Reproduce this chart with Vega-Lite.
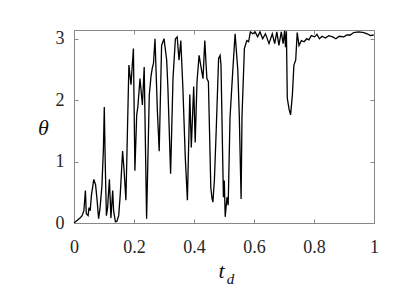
{
  "$schema": "https://vega.github.io/schema/vega-lite/v6.json",
  "width": 300,
  "height": 193,
  "autosize": "none",
  "padding": {"left": 74, "top": 30, "right": 25, "bottom": 77},
  "background": "white",
  "config": {
    "view": {"stroke": "#888888", "strokeWidth": 1},
    "font": "Liberation Serif",
    "axis": {"labelFont": "Liberation Serif", "titleFont": "Liberation Serif", "labelFlush": false}
  },
  "data": {"values": [
    {"t":0.0,"theta":0.0},{"t":0.01,"theta":0.04},{"t":0.02,"theta":0.08},{"t":0.027,"theta":0.12},
    {"t":0.033,"theta":0.2},{"t":0.038,"theta":0.53},{"t":0.041,"theta":0.15},{"t":0.047,"theta":0.12},
    {"t":0.05,"theta":0.25},{"t":0.054,"theta":0.2},{"t":0.058,"theta":0.45},{"t":0.066,"theta":0.71},
    {"t":0.072,"theta":0.62},{"t":0.077,"theta":0.37},{"t":0.082,"theta":0.07},{"t":0.087,"theta":0.25},
    {"t":0.093,"theta":0.6},{"t":0.098,"theta":1.2},{"t":0.101,"theta":1.89},{"t":0.104,"theta":1.0},
    {"t":0.108,"theta":0.12},{"t":0.112,"theta":0.25},{"t":0.118,"theta":0.71},{"t":0.121,"theta":0.35},
    {"t":0.123,"theta":0.08},{"t":0.129,"theta":0.53},{"t":0.132,"theta":0.2},{"t":0.138,"theta":0.02},
    {"t":0.143,"theta":0.03},{"t":0.149,"theta":0.12},{"t":0.154,"theta":0.45},{"t":0.162,"theta":1.17},
    {"t":0.167,"theta":0.85},{"t":0.173,"theta":0.37},{"t":0.183,"theta":2.57},{"t":0.19,"theta":2.25},
    {"t":0.198,"theta":2.84},{"t":0.203,"theta":0.85},{"t":0.209,"theta":1.76},{"t":0.213,"theta":1.9},
    {"t":0.22,"theta":2.35},{"t":0.228,"theta":1.92},{"t":0.234,"theta":2.54},{"t":0.242,"theta":0.07},
    {"t":0.251,"theta":2.09},{"t":0.257,"theta":2.4},{"t":0.261,"theta":2.52},{"t":0.265,"theta":2.6},
    {"t":0.27,"theta":3.0},{"t":0.278,"theta":1.82},{"t":0.284,"theta":1.17},{"t":0.292,"theta":2.89},
    {"t":0.3,"theta":3.0},{"t":0.309,"theta":2.65},{"t":0.313,"theta":2.2},{"t":0.322,"theta":0.8},
    {"t":0.33,"theta":2.35},{"t":0.338,"theta":3.0},{"t":0.344,"theta":3.03},{"t":0.35,"theta":2.65},
    {"t":0.356,"theta":2.97},{"t":0.363,"theta":2.19},{"t":0.371,"theta":1.06},{"t":0.378,"theta":0.37},
    {"t":0.386,"theta":2.09},{"t":0.391,"theta":1.23},{"t":0.399,"theta":2.22},{"t":0.404,"theta":1.31},
    {"t":0.41,"theta":2.3},{"t":0.417,"theta":2.73},{"t":0.424,"theta":2.52},{"t":0.43,"theta":2.35},
    {"t":0.436,"theta":2.97},{"t":0.44,"theta":2.6},{"t":0.443,"theta":2.35},{"t":0.448,"theta":2.3},
    {"t":0.456,"theta":0.58},{"t":0.46,"theta":0.4},{"t":0.463,"theta":0.34},{"t":0.468,"theta":0.7},
    {"t":0.474,"theta":1.5},{"t":0.482,"theta":2.68},{"t":0.487,"theta":2.73},{"t":0.49,"theta":2.57},
    {"t":0.498,"theta":0.42},{"t":0.501,"theta":0.69},{"t":0.504,"theta":0.1},{"t":0.51,"theta":0.42},
    {"t":0.514,"theta":0.29},{"t":0.52,"theta":1.71},{"t":0.529,"theta":2.46},{"t":0.537,"theta":3.08},
    {"t":0.546,"theta":2.49},{"t":0.551,"theta":1.74},{"t":0.557,"theta":0.39},{"t":0.56,"theta":1.74},
    {"t":0.568,"theta":2.84},{"t":0.576,"theta":2.97},{"t":0.582,"theta":2.95},{"t":0.588,"theta":3.11},
    {"t":0.596,"theta":3.08},{"t":0.604,"theta":3.11},{"t":0.612,"theta":3.03},{"t":0.62,"theta":3.11},
    {"t":0.629,"theta":3.0},{"t":0.638,"theta":3.08},{"t":0.642,"theta":3.03},{"t":0.65,"theta":2.92},
    {"t":0.661,"theta":3.08},{"t":0.669,"theta":2.92},{"t":0.676,"theta":3.11},{"t":0.683,"theta":2.89},
    {"t":0.691,"theta":3.11},{"t":0.697,"theta":2.92},{"t":0.702,"theta":3.13},{"t":0.705,"theta":2.86},
    {"t":0.708,"theta":3.12},{"t":0.711,"theta":2.03},{"t":0.717,"theta":1.85},{"t":0.722,"theta":1.76},
    {"t":0.728,"theta":2.09},{"t":0.733,"theta":2.57},{"t":0.739,"theta":2.65},{"t":0.744,"theta":3.1},
    {"t":0.75,"theta":2.89},{"t":0.758,"theta":2.97},{"t":0.767,"theta":2.95},{"t":0.776,"theta":3.0},
    {"t":0.783,"theta":2.98},{"t":0.791,"theta":3.05},{"t":0.802,"theta":3.03},{"t":0.81,"theta":3.07},
    {"t":0.818,"theta":3.0},{"t":0.827,"theta":3.04},{"t":0.838,"theta":3.01},{"t":0.849,"theta":3.05},
    {"t":0.862,"theta":3.03},{"t":0.873,"theta":3.0},{"t":0.884,"theta":3.04},{"t":0.899,"theta":3.03},
    {"t":0.91,"theta":3.06},{"t":0.921,"theta":3.06},{"t":0.932,"theta":3.1},{"t":0.949,"theta":3.11},
    {"t":0.966,"theta":3.1},{"t":0.977,"theta":3.08},{"t":0.988,"theta":3.05},{"t":0.999,"theta":3.06}
  ]},
  "layer": [
    {
      "mark": {"type": "line", "color": "black", "strokeWidth": 1.3},
      "encoding": {
        "x": {"field": "t", "type": "quantitative",
          "scale": {"domain": [0, 1], "nice": false, "zero": false},
          "axis": {"orient": "bottom", "values": [0, 0.2, 0.4, 0.6, 0.8, 1], "format": "~g",
            "domain": false, "grid": false, "tickSize": -4, "tickColor": "#888888", "labelFlush": false,
            "labelPadding": 19, "labelFontSize": 18, "labelColor": "#262626", "labelFont": "Liberation Serif",
            "title": "t", "titleFont": "Liberation Serif", "titleFontStyle": "italic", "titleFontWeight": "normal",
            "titleFontSize": 22, "titleColor": "#111111", "titleX": 147, "titleY": 54,
            "titleBaseline": "alphabetic", "titleAlign": "center"}},
        "y": {"field": "theta", "type": "quantitative",
          "scale": {"domain": [0, 3.1416], "nice": false, "zero": false},
          "axis": {"orient": "left", "values": [0, 1, 2, 3],
            "domain": false, "grid": false, "tickSize": -4, "tickColor": "#888888", "labelFlush": false,
            "labelPadding": 14, "labelFontSize": 18, "labelColor": "#262626", "labelFont": "Liberation Serif",
            "title": "θ", "titleFont": "Liberation Serif", "titleFontStyle": "italic", "titleFontWeight": "normal",
            "titleFontSize": 22, "titleColor": "#111111", "titleAngle": 0, "titleX": -31, "titleY": 97,
            "titleAlign": "center", "titleBaseline": "middle"}}
      }
    },
    {
      "mark": {"type": "line", "opacity": 0},
      "encoding": {
        "x": {"field": "t", "type": "quantitative",
          "scale": {"domain": [0, 1], "nice": false, "zero": false},
          "axis": {"orient": "top", "values": [0, 0.2, 0.4, 0.6, 0.8, 1],
            "domain": false, "grid": false, "labels": false, "tickSize": -4, "tickColor": "#888888",
            "title": "d", "titleFont": "Liberation Serif", "titleFontStyle": "italic", "titleFontWeight": "normal",
            "titleFontSize": 15, "titleColor": "#111111", "titleX": 156, "titleY": 253,
            "titleBaseline": "alphabetic", "titleAlign": "center"}},
        "y": {"field": "theta", "type": "quantitative",
          "scale": {"domain": [0, 3.1416], "nice": false, "zero": false},
          "axis": {"orient": "right", "values": [0, 1, 2, 3],
            "domain": false, "grid": false, "labels": false, "tickSize": -4, "tickColor": "#888888",
            "title": null}}
      }
    }
  ],
  "resolve": {"axis": {"x": "independent", "y": "independent"}}
}
